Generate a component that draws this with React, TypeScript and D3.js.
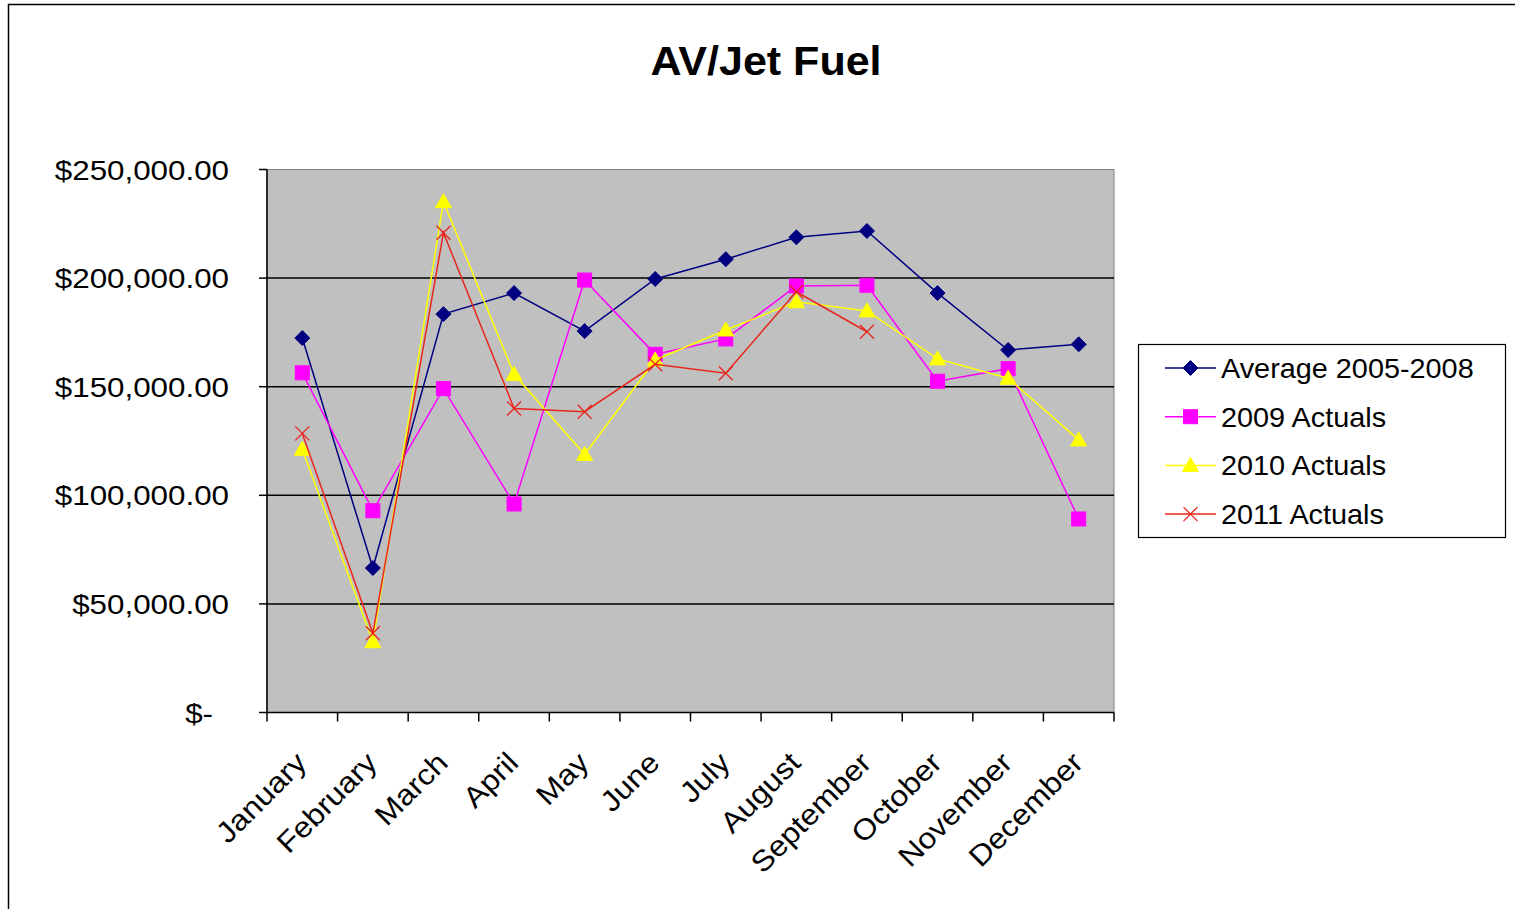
import React from "react";
import * as d3 from "d3";

const months = ["January","February","March","April","May","June","July","August","September","October","November","December"];
const average0508 = [172400,66500,183400,193100,175600,199600,208700,218800,221700,193100,166900,169500];
const actuals2009 = [156400,92900,149100,96000,199100,164900,172000,196400,196700,152500,158300,89100];
const actuals2010 = [121200,32600,235200,155700,118800,162300,176100,189100,184900,162800,153900,125500];
const actuals2011 = [128500,36500,220900,140000,138500,160300,156200,193700,175300];
const yTicks = [0,50000,100000,150000,200000,250000];
const seriesNames = ["Average 2005-2008","2009 Actuals","2010 Actuals","2011 Actuals"];

const W = 1515, H = 909;
const plot = { left: 267, top: 169.5, right: 1114, bottom: 712.5 };
const FONT = "Liberation Sans, Arial, sans-serif";

type S = { name: string; values: number[]; color: string; marker: string };

function Marker({ type, x, y, color }: { type: string; x: number; y: number; color: string }) {
  if (type === "diamond") {
    const r = 7.5;
    return <path d={`M${x},${y - r}L${x + r},${y}L${x},${y + r}L${x - r},${y}Z`} fill={color} stroke={color} strokeWidth={1} />;
  }
  if (type === "square") {
    const s = 14;
    return <rect x={x - s / 2} y={y - s / 2} width={s} height={s} fill={color} stroke={color} />;
  }
  if (type === "triangle") {
    const r = 8;
    return <path d={`M${x},${y - r}L${x + r},${y + r * 0.75}L${x - r},${y + r * 0.75}Z`} fill={color} stroke={color} />;
  }
  const r = 7;
  return <path d={`M${x - r},${y - r}L${x + r},${y + r}M${x - r},${y + r}L${x + r},${y - r}`} stroke={color} strokeWidth={1.3} fill="none" />;
}

export default function App() {
  const x = d3.scaleBand<string>().domain(months).range([plot.left, plot.right]);
  const y = d3.scaleLinear().domain([0, 250000]).range([plot.bottom, plot.top]);
  const cx = (i: number) => (x(months[i]) as number) + x.bandwidth() / 2;

  const series: S[] = [
    { name: seriesNames[0], values: average0508, color: "#000080", marker: "diamond" },
    { name: seriesNames[1], values: actuals2009, color: "#ff00ff", marker: "square" },
    { name: seriesNames[2], values: actuals2010, color: "#ffff00", marker: "triangle" },
    { name: seriesNames[3], values: actuals2011, color: "#e8261c", marker: "x" },
  ];
  const line = d3.line<number>().x((_, i) => cx(i)).y((d) => y(d));
  const fmt = (v: number) => (v === 0 ? "$-" : "$" + d3.format(",.2f")(v));
  const tickBounds = months.map((m) => x(m) as number).concat([plot.right]);

  return (
    <svg width={W} height={H} style={{ position: "absolute", left: 0, top: 0 }}>
      <rect x={0} y={0} width={W} height={H} fill="#fff" />
      <rect x={8.5} y={4.5} width={W + 10} height={H + 10} fill="#fff" stroke="#000" strokeWidth={1.5} />
      <text transform="translate(766,75) scale(1.05,1)" textAnchor="middle" fontFamily={FONT} fontWeight="bold" fontSize={41} fill="#000">AV/Jet Fuel</text>

      <rect x={plot.left} y={plot.top} width={plot.right - plot.left} height={plot.bottom - plot.top} fill="#c0c0c0" stroke="#808080" strokeWidth={1} />
      {yTicks.filter((t) => t > 0 && t < 250000).map((t) => (
        <line key={t} x1={plot.left} x2={plot.right} y1={y(t)} y2={y(t)} stroke="#000" strokeWidth={1.5} />
      ))}
      <line x1={plot.left} x2={plot.left} y1={plot.top} y2={plot.bottom} stroke="#000" strokeWidth={1.5} />
      <line x1={plot.left} x2={plot.right} y1={plot.bottom} y2={plot.bottom} stroke="#000" strokeWidth={1.5} />
      {yTicks.map((t) => (
        <g key={t}>
          <line x1={plot.left - 8} x2={plot.left} y1={y(t)} y2={y(t)} stroke="#000" strokeWidth={1.5} />
          <text transform={`translate(${t === 0 ? 213 : 229},${y(t) + 10}) scale(1.1,1)`} textAnchor="end" fontFamily={FONT} fontSize={28.5} fill="#000">{fmt(t)}</text>
        </g>
      ))}
      {tickBounds.map((b, i) => (
        <line key={i} x1={b} x2={b} y1={plot.bottom} y2={plot.bottom + 9} stroke="#000" strokeWidth={1.5} />
      ))}
      {months.map((m, i) => (
        <text key={m} transform={`translate(${cx(i) + 6},${plot.bottom + 52}) rotate(-45) scale(1.1,1)`} textAnchor="end" fontFamily={FONT} fontSize={29} fill="#000">{m}</text>
      ))}

      {series.map((s) => (
        <g key={s.name}>
          <path d={line(s.values) as string} fill="none" stroke={s.color} strokeWidth={1.5} />
          {s.values.map((v, i) => <Marker key={i} type={s.marker} x={cx(i)} y={y(v)} color={s.color} />)}
        </g>
      ))}

      <rect x={1138.5} y={344.5} width={367} height={193} fill="#fff" stroke="#000" strokeWidth={1.2} />
      {series.map((s, i) => {
        const ly = 368 + i * 48.7;
        return (
          <g key={s.name}>
            <line x1={1165} x2={1216} y1={ly} y2={ly} stroke={s.color} strokeWidth={1.5} />
            <Marker type={s.marker} x={1190.5} y={ly} color={s.color} />
            <text transform={`translate(1221,${ly + 10}) scale(1.03,1)`} fontFamily={FONT} fontSize={28} fill="#000">{s.name}</text>
          </g>
        );
      })}
    </svg>
  );
}
